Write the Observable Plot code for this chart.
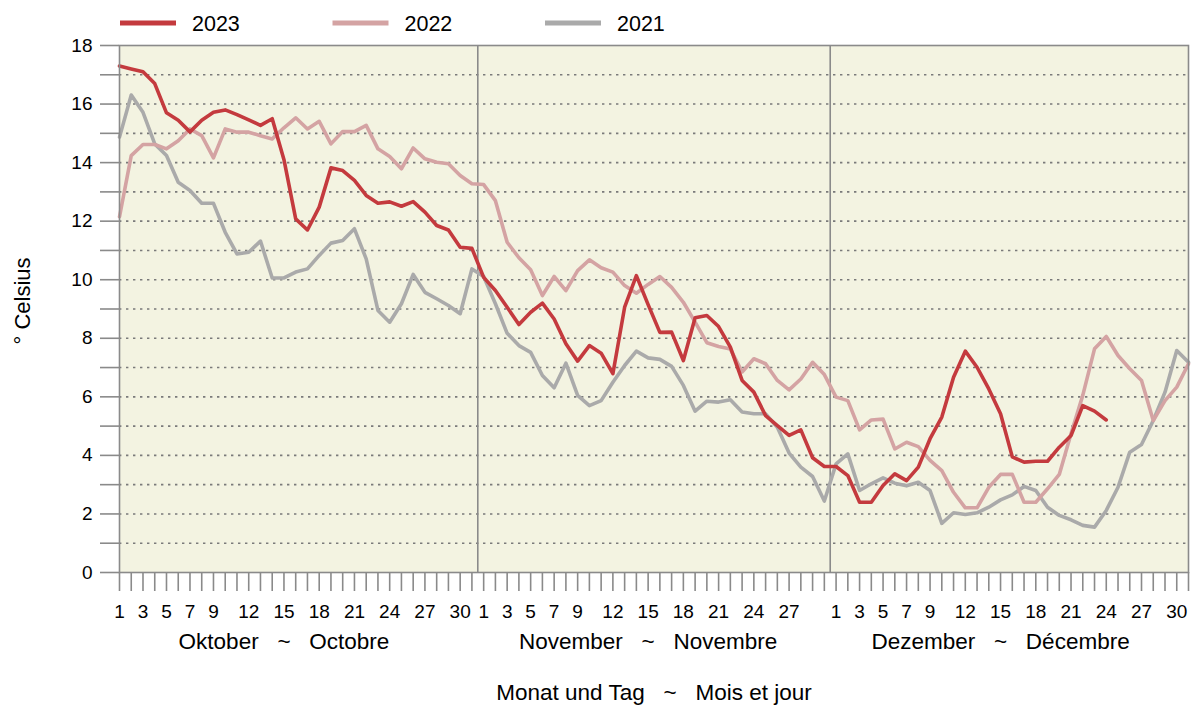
<!DOCTYPE html>
<html>
<head>
<meta charset="utf-8">
<script src="https://cdn.jsdelivr.net/npm/d3@7"></script>
<script src="https://cdn.jsdelivr.net/npm/@observablehq/plot@0.6"></script>
<style>
  html, body { margin: 0; padding: 0; background: #fff; }
  body { width: 1191px; height: 707px; overflow: hidden; font-family: "Liberation Sans", Arial, sans-serif; }
</style>
</head>
<body>
<div id="chart"></div>
<script>
// ---- data ----
const seriesNames = ["2023", "2022", "2021"];
const seriesColors = ["#C43A3E", "#D4A3A3", "#AAAAAA"];

const temps2023 = [
  17.3, 17.2, 17.1, 16.7, 15.7, 15.45, 15.05, 15.45, 15.72, 15.8,
  15.64, 15.46, 15.27, 15.5, 14.1, 12.08, 11.7, 12.48, 13.82, 13.73,
  13.39, 12.88, 12.61, 12.66, 12.51, 12.67, 12.31, 11.85, 11.7, 11.11,
  11.07,
  10.08, 9.63, 9.06, 8.47, 8.89, 9.2, 8.66, 7.81, 7.22, 7.75,
  7.49, 6.79, 9.06, 10.14, 9.15, 8.2, 8.21, 7.24, 8.7, 8.78,
  8.4, 7.7, 6.56, 6.16, 5.36, 5.02, 4.68, 4.87, 3.92, 3.62,
  3.62, 3.31, 2.4, 2.4, 2.97, 3.37, 3.14, 3.6, 4.57, 5.31,
  6.67, 7.56, 7.01, 6.27, 5.42, 3.95, 3.77, 3.8, 3.8, 4.28,
  4.68, 5.7, 5.51, 5.21
];
const temps2022 = [
  12.15, 14.24, 14.62, 14.62, 14.47, 14.75, 15.15, 14.92, 14.16, 15.15,
  15.04, 15.04, 14.92, 14.81, 15.19, 15.53, 15.15, 15.41, 14.64, 15.06,
  15.06, 15.27, 14.47, 14.21, 13.79, 14.5, 14.13, 14.01, 13.96, 13.56,
  13.28,
  13.25, 12.7, 11.28, 10.75, 10.34, 9.46, 10.11, 9.63, 10.31, 10.68,
  10.41, 10.26, 9.8, 9.54, 9.84, 10.11, 9.74, 9.23, 8.55, 7.85,
  7.72, 7.63, 6.85, 7.3, 7.13, 6.56, 6.24, 6.61, 7.18, 6.76,
  5.99, 5.87, 4.87, 5.21, 5.24, 4.22, 4.45, 4.3, 3.83, 3.48,
  2.74, 2.21, 2.21, 2.91, 3.35, 3.35, 2.4, 2.4, 2.86, 3.35,
  4.74, 6.05, 7.64, 8.06, 7.41, 6.96, 6.56, 5.19, 5.87, 6.33,
  7.13
];
const temps2021 = [
  14.87, 16.31, 15.72, 14.64, 14.24, 13.33, 13.05, 12.61, 12.61, 11.62,
  10.88, 10.94, 11.32, 10.06, 10.06, 10.26, 10.37, 10.83, 11.25, 11.34,
  11.74, 10.71, 8.95, 8.55, 9.18, 10.18, 9.57, 9.35, 9.12, 8.84,
  10.37,
  10.11, 9.18, 8.17, 7.75, 7.52, 6.73, 6.31, 7.15, 6.05, 5.7,
  5.87, 6.5, 7.07, 7.56, 7.33, 7.28, 7.04, 6.39, 5.51, 5.85,
  5.82, 5.9, 5.48, 5.42, 5.42, 4.96, 4.08, 3.6, 3.28, 2.44,
  3.71, 4.05, 2.8, 3.03, 3.23, 3.05, 2.96, 3.08, 2.8, 1.68,
  2.04, 1.98, 2.04, 2.23, 2.48, 2.65, 2.94, 2.8, 2.23, 1.95,
  1.8, 1.61, 1.55, 2.12, 2.91, 4.11, 4.37, 5.19, 6.16, 7.58,
  7.18
];

const monthNames = ["Oktober\u00a0\u00a0\u00a0~\u00a0\u00a0\u00a0Octobre",
                    "November\u00a0\u00a0\u00a0~\u00a0\u00a0\u00a0Novembre",
                    "Dezember\u00a0\u00a0\u00a0~\u00a0\u00a0\u00a0Décembre"];
const monthLengths = [31, 30, 31];
const monthLabelDay = 15;
const tickLabelDaysOct = [1, 3, 5, 7, 9, 12, 15, 18, 21, 24, 27, 30];
const tickLabelDaysNov = [1, 3, 5, 7, 9, 12, 15, 18, 21, 24, 27];
const tickLabelDaysDec = [1, 3, 5, 7, 9, 12, 15, 18, 21, 24, 27, 30];
const yTickLabels = [0, 2, 4, 6, 8, 10, 12, 14, 16, 18];
const xTitle = "Monat und Tag\u00a0\u00a0\u00a0~\u00a0\u00a0\u00a0Mois et jour";
const yTitle = "° Celsius";

// ---- derived tables ----
const tickLabelDays = [tickLabelDaysOct, tickLabelDaysNov, tickLabelDaysDec];
const monthStart = [0, monthLengths[0], monthLengths[0] + monthLengths[1]];
const nDays = d3.sum(monthLengths);
const dayIndex = d3.range(nDays);
function dayInfo(i) {
  let m = 0;
  while (m < 2 && i >= monthStart[m + 1]) m++;
  return {m, day: i - monthStart[m] + 1};
}
const rows = [];
[temps2023, temps2022, temps2021].forEach((arr, s) => {
  arr.forEach((v, i) => rows.push({i, v, year: seriesNames[s]}));
});
const drawOrder = ["2021", "2022", "2023"];
const separators = [monthStart[1] - 0.5, monthStart[2] - 0.5];
const monthMid = monthNames.map((name, m) => ({name, i: monthStart[m] + monthLabelDay - 1}));
const gridVals = d3.range(1, 18);
const yTicks = d3.range(0, 19);

// ---- legend ----
const legend = d3.create("svg").attr("width", 1191).attr("height", 35).style("display", "block");
seriesNames.forEach((name, k) => {
  const x0 = 120 + 212.5 * k;
  legend.append("line").attr("x1", x0).attr("x2", x0 + 56).attr("y1", 23).attr("y2", 23)
    .attr("stroke", seriesColors[k]).attr("stroke-width", 5);
  legend.append("text").attr("x", x0 + 72).attr("y", 30.5).text(name)
    .attr("font-family", "Liberation Sans, Arial, sans-serif").attr("font-size", 21.5).attr("fill", "#000");
});
document.getElementById("chart").appendChild(legend.node());

// ---- plot ----
const color = d3.scaleOrdinal(seriesNames, seriesColors);
const chart = Plot.plot({
  width: 1191,
  height: 672,
  marginLeft: 119,
  marginRight: 3,
  marginTop: 10,
  marginBottom: 135,
  style: {fontFamily: "Liberation Sans, Arial, sans-serif", fontSize: "19px", color: "#000", background: "transparent"},
  x: {domain: [0, nDays - 1], axis: null},
  y: {domain: [0, 18], axis: null},
  marks: [
    Plot.frame({fill: "#F3F3E1"}),
    Plot.ruleY(gridVals, {stroke: "#7a7a7a", strokeWidth: 1.6, strokeDasharray: "2.4,4.6"}),
    Plot.ruleX(separators, {stroke: "#8a8a8a", strokeWidth: 1.6}),
    ...drawOrder.map(yr => Plot.line(rows.filter(d => d.year === yr), {
      x: "i", y: "v", stroke: color(yr), strokeWidth: 3.6, strokeLinejoin: "round"
    })),
    Plot.frame({stroke: "#8a8a8a", strokeWidth: 1.6}),
    Plot.axisY({ticks: yTicks, tickSize: 19, tickPadding: 8, stroke: "#8a8a8a", strokeWidth: 1.6, label: null,
      tickFormat: d => yTickLabels.includes(d) ? String(d) : "", fill: "#000", fontSize: 19}),
    Plot.axisX({ticks: dayIndex, tickSize: 19, tickPadding: 13, stroke: "#8a8a8a", strokeWidth: 1.6, label: null,
      tickFormat: i => { const {m, day} = dayInfo(i); return tickLabelDays[m].includes(day) ? String(day) : ""; },
      fill: "#000", fontSize: 19}),
    Plot.text(monthMid, {x: "i", text: "name", frameAnchor: "bottom", lineAnchor: "middle", dy: 69, fontSize: 22.5, fill: "#000"}),
    Plot.text([xTitle], {text: d => d, frameAnchor: "bottom", lineAnchor: "middle", dy: 120, fontSize: 22.5, fill: "#000"}),
    Plot.text([yTitle], {text: d => d, frameAnchor: "left", textAnchor: "middle", lineAnchor: "middle", dx: -97, dy: -8, rotate: -90, fontSize: 22, fill: "#000"})
  ]
});
document.getElementById("chart").appendChild(chart);
</script>
</body>
</html>
